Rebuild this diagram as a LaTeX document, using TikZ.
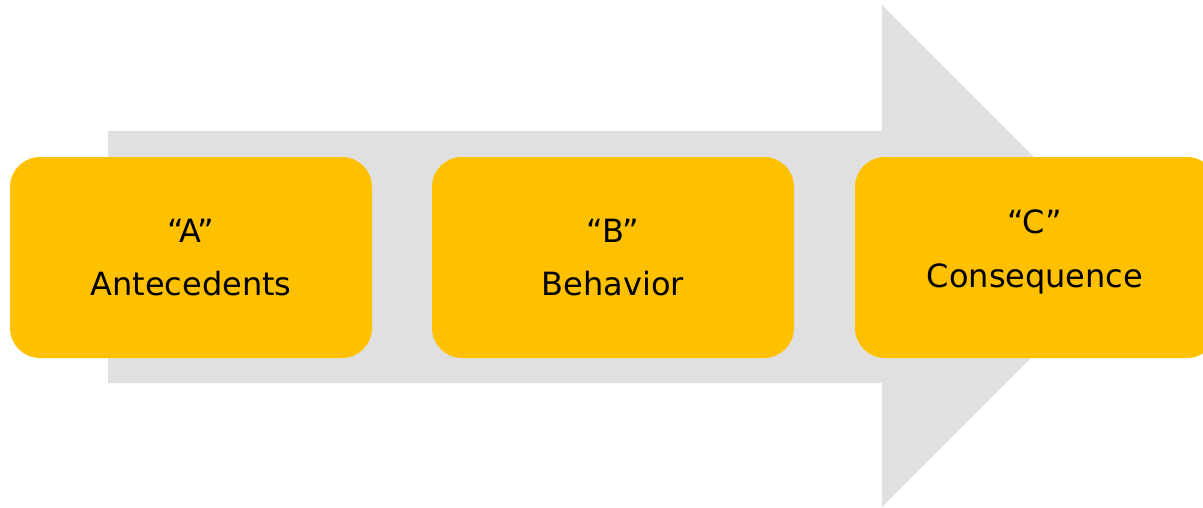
\documentclass[tikz,border=0pt]{standalone}
\usepackage{fontspec}
\setmainfont{DejaVu Sans}
\definecolor{arrowgray}{HTML}{E0E0E0}
\definecolor{boxyellow}{HTML}{FFC000}
\begin{document}
\begin{tikzpicture}[x=1pt,y=-1pt,
  box/.style={fill=boxyellow, draw=none, rounded corners=30pt, minimum width=362pt, minimum height=201pt, inner sep=0pt},
  lbl/.style={font=\fontsize{32}{38}\selectfont, text=black, anchor=base, inner sep=0pt}]
\useasboundingbox (0,0) rectangle (1203,507);
\clip (0,0) rectangle (1203,507);
\fill[arrowgray] (108,131) -- (882,131) -- (882,5) -- (1133,256) -- (882,507) -- (882,383) -- (108,383) -- cycle;
\node[box] (A) at (191,257.5) {};
\node[box] (B) at (613,257.5) {};
\node[box] (C) at (1036,257.5) {};
\node[lbl] (A1) at (191,242) {“A”};
\node[lbl] (A2) at (191,295) {Antecedents};
\node[lbl] (B1) at (613,242) {“B”};
\node[lbl] (B2) at (613,295) {Behavior};
\node[lbl] (C1) at (1035,233) {“C”};
\node[lbl] (C2) at (1035,287) {Consequence};
\end{tikzpicture}
\end{document}
